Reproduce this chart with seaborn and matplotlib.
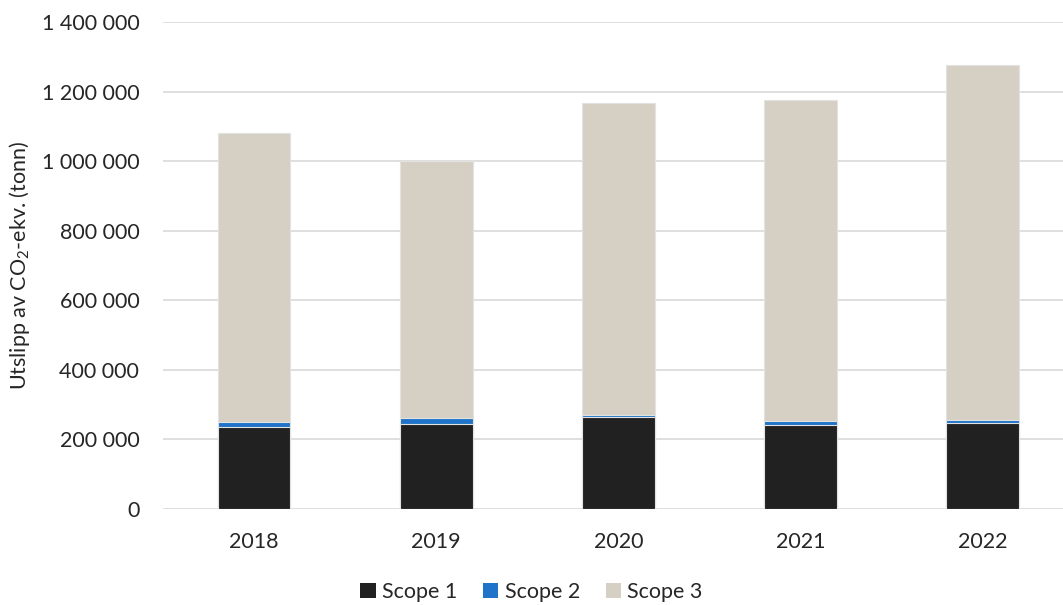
import matplotlib
matplotlib.use("Agg")
import matplotlib.pyplot as plt
from matplotlib.patches import Patch
from matplotlib.ticker import FuncFormatter
import numpy as np
import pandas as pd
import seaborn as sns

years = ["2018", "2019", "2020", "2021", "2022"]
scope1 = [235000, 244000, 263000, 241000, 247000]
scope2 = [13500, 17000, 6000, 10500, 8000]
scope3 = [831500, 738000, 897000, 924500, 1020000]

series_names = ["Scope 1", "Scope 2", "Scope 3"]
colors = ["#212121", "#1f73c8", "#d6d0c4"]

df = pd.DataFrame({"year": years, "Scope 1": scope1, "Scope 2": scope2, "Scope 3": scope3})
# cumulative heights for stacking: draw the tallest layer first
df["cum1"] = df["Scope 1"]
df["cum2"] = df["cum1"] + df["Scope 2"]
df["cum3"] = df["cum2"] + df["Scope 3"]

sns.set_theme(style="white")
plt.rcParams["font.family"] = ["Lato", "DejaVu Sans"]
plt.rcParams["mathtext.fontset"] = "custom"
plt.rcParams["mathtext.rm"] = "Lato"
plt.rcParams["mathtext.it"] = "Lato:italic"

FS = 15.5
TXT = "#262626"

fig = plt.figure(figsize=(10.63, 6.05), dpi=100)
ax = fig.add_axes([0.1533, 0.1595, 0.8467, 0.8041])

for col, color in zip(["cum3", "cum2", "cum1"], colors[::-1]):
    sns.barplot(data=df, x="year", y=col, color=color, width=0.40,
                edgecolor="#e2e2e2", linewidth=0.8, ax=ax, zorder=3, saturation=1)

ax.set_ylim(0, 1400000)
ax.set_xlim(-0.5, 4.44)
ax.set_yticks(np.arange(0, 1400001, 200000))
ax.yaxis.set_major_formatter(FuncFormatter(lambda v, p: f"{int(v):,}".replace(",", " ")))
ax.grid(axis="y", color="#d9d9d9", linewidth=1.2, zorder=0)
ax.grid(axis="x", visible=False)
for s in ax.spines.values():
    s.set_visible(False)
ax.tick_params(axis="both", length=0, labelsize=FS, colors=TXT)
ax.tick_params(axis="y", pad=17)
ax.tick_params(axis="x", pad=17)
ax.set_xlabel("")
ax.set_ylabel("Utslipp av CO$_2$-ekv. (tonn)", fontsize=FS, color=TXT)
ax.yaxis.set_label_coords(-0.145, 0.5)

handles = [Patch(facecolor=c, edgecolor="none", label=n) for n, c in zip(series_names, colors)]
fig.legend(handles=handles, loc="center", bbox_to_anchor=(0.5, 0.022), ncol=3,
           frameon=False, fontsize=FS, handlelength=0.7, handleheight=0.7,
           handletextpad=0.3, columnspacing=1.2, labelcolor=TXT)

fig.savefig("out.png", dpi=100)
